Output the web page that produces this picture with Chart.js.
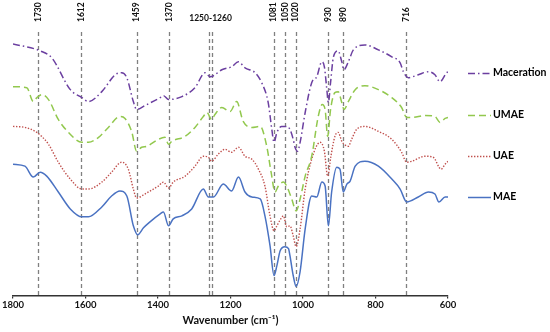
<!DOCTYPE html>
<html>
<head>
<meta charset="utf-8">
<script src="https://cdn.jsdelivr.net/npm/chart.js@4/dist/chart.umd.min.js"></script>
<style>
  html, body { margin: 0; padding: 0; background: #fff; }
  #wrap { width: 550px; height: 332px; position: relative; }
</style>
</head>
<body>
<div id="wrap"><canvas id="c"></canvas></div>
<script>
// ---- Data (wavenumber in cm-1, relative absorbance, arbitrary offset units) ----
const seriesNames = ["Maceration", "UMAE", "UAE", "MAE"];

const macerationWn = [1800,1725,1693,1642,1610,1592,1555,1518,1500,1486,1468,1459,1436,1394,1385,1371,1334,1298,1270,1256,1247,1224,1197,1178,1160,1132,1114,1096,1086,1080,1072,1059,1045,1036,1027,1022,1015,1008,994,976,962,948,941,935,930,924,916,903,893,887,875,861,829,792,755,732,723,710,682,654,636,622,604,600];
const macerationAbs = [253,246,239,207,199,195,205,222,224,219,195,187,191,199,201,197,200,209,224,220,221,227,230,235,229,224,214,194,167,154,164,170,170,167,157,149,145,154,184,214,220,235,230,210,194,214,240,246,235,227,235,247,252,247,240,234,225,219,222,225,222,215,224,225];

const umaeWn = [1800,1762,1744,1734,1721,1702,1675,1647,1610,1592,1564,1537,1505,1491,1472,1459,1445,1431,1399,1381,1371,1362,1325,1298,1275,1265,1252,1243,1224,1201,1183,1165,1141,1118,1100,1088,1077,1068,1054,1045,1031,1019,1008,994,976,958,947,939,932,924,912,903,893,887,875,856,829,792,755,728,714,700,663,636,622,608,600];
const umaeAbs = [210,209,195,199,202,197,177,164,154,154,159,169,180,178,164,145,149,150,157,159,152,155,160,169,180,184,177,182,189,185,195,175,169,170,150,124,104,110,114,110,97,85,97,120,140,180,192,187,160,187,204,205,194,187,195,207,211,207,199,189,179,179,181,180,174,178,179];

const uaeWn = [1800,1767,1734,1721,1702,1675,1642,1610,1592,1555,1528,1500,1482,1468,1459,1436,1422,1399,1385,1371,1358,1325,1298,1275,1261,1252,1234,1215,1197,1178,1160,1141,1123,1105,1091,1080,1072,1063,1054,1045,1036,1027,1019,1008,994,976,953,941,932,923,912,903,893,886,875,866,852,829,792,755,728,714,700,663,641,619,608,600];
const uaeAbs = [170,169,164,160,152,134,117,107,107,114,124,134,127,107,98,102,105,110,114,108,114,120,130,140,139,135,142,147,144,149,140,137,127,110,80,65,70,76,80,69,70,60,49,67,107,137,154,145,120,140,160,164,155,152,150,157,167,170,165,157,144,134,135,140,139,127,132,135];

const maeWn = [1800,1767,1744,1725,1707,1675,1642,1610,1592,1555,1528,1505,1486,1468,1456,1440,1422,1394,1385,1371,1358,1334,1307,1275,1261,1247,1220,1197,1178,1160,1141,1118,1105,1091,1080,1072,1063,1050,1040,1036,1027,1019,1008,994,976,962,948,939,930,921,907,898,889,879,870,856,829,792,755,732,714,682,654,636,625,608,600];
const maeAbs = [132,130,119,124,120,104,87,79,79,89,100,105,100,70,61,68,74,82,84,70,77,80,87,107,99,99,112,105,119,104,99,97,80,50,20,30,45,49,47,40,20,9,24,67,100,99,114,110,70,104,129,127,104,112,115,130,135,130,117,107,94,99,104,102,94,99,99];

const markerWn = [1730,1612,1459,1370,1260,1250,1081,1050,1020,930,890,716];
const markerLabels = ["1730","1612","1459","1370","","","1081","1050","1020","930","890","716"];
const groupLabel = "1250-1260";
const xTicks = [1800,1600,1400,1200,1000,800,600];

// ---- Styles ----
const colors = ["#6B3FA0", "#92C84E", "#C0504D", "#4A72C2"];
const dashes = [[7,3,1.5,3], [7,4], [1.4,1.6], []];
const widths = [1.5, 1.5, 1.4, 1.5];

function pts(wn, ab) { return wn.map((w, i) => ({ x: w, y: ab[i] })); }
const allData = [pts(macerationWn, macerationAbs), pts(umaeWn, umaeAbs), pts(uaeWn, uaeAbs), pts(maeWn, maeAbs)];

const FONT = "Lato, 'Open Sans', 'DejaVu Sans', sans-serif";

const markerPlugin = {
  id: 'markers',
  beforeDatasetsDraw(chart) {
    const { ctx, chartArea, scales } = chart;
    const xs = scales.x;
    ctx.save();
    ctx.strokeStyle = '#808080';
    ctx.lineWidth = 1.3;
    ctx.setLineDash([4, 3]);
    markerWn.forEach(w => {
      const px = Math.round(xs.getPixelForValue(w)) + 0.5;
      ctx.beginPath();
      ctx.moveTo(px, chartArea.top + 2);
      ctx.lineTo(px, chartArea.bottom);
      ctx.stroke();
    });
    ctx.setLineDash([]);
    ctx.fillStyle = '#111';
    ctx.font = "bold 8.5px " + FONT;
    markerWn.forEach((w, i) => {
      if (!markerLabels[i]) return;
      const px = xs.getPixelForValue(w);
      ctx.save();
      ctx.translate(px, 22);
      ctx.rotate(-Math.PI / 2);
      ctx.textAlign = 'left';
      ctx.textBaseline = 'middle';
      ctx.fillText(markerLabels[i], 0, 0);
      ctx.restore();
    });
    const gx = (xs.getPixelForValue(1250) + xs.getPixelForValue(1260)) / 2;
    ctx.font = "bold 8.5px " + FONT;
    ctx.textAlign = 'center';
    ctx.textBaseline = 'middle';
    ctx.fillText(groupLabel, gx, 18);
    ctx.restore();
  }
};

const legendPlugin = {
  id: 'customLegend',
  afterDraw(chart) {
    const { ctx } = chart;
    const ys = [73, 115, 156, 197];
    ctx.save();
    chart.data.datasets.forEach((ds, i) => {
      ctx.strokeStyle = ds.borderColor;
      ctx.lineWidth = ds.borderWidth;
      ctx.setLineDash(ds.borderDash || []);
      ctx.beginPath();
      ctx.moveTo(468, ys[i] + 0.5);
      ctx.lineTo(491, ys[i] + 0.5);
      ctx.stroke();
      ctx.setLineDash([]);
      ctx.fillStyle = '#000';
      ctx.font = "bold 10.5px " + FONT;
      ctx.textAlign = 'left';
      ctx.textBaseline = 'middle';
      ctx.fillText(ds.label, 493, ys[i]);
    });
    ctx.restore();
  }
};

new Chart(document.getElementById('c'), {
  type: 'line',
  data: {
    datasets: seriesNames.map((n, i) => ({
      label: n,
      data: allData[i],
      borderColor: colors[i],
      borderDash: dashes[i],
      borderWidth: widths[i],
      pointRadius: 0,
      fill: false,
      cubicInterpolationMode: 'monotone'
    }))
  },
  options: {
    responsive: true,
    maintainAspectRatio: false,
    animation: false,
    layout: { padding: { left: 13, right: 102, top: 30, bottom: 5 } },
    plugins: { legend: { display: false }, tooltip: { enabled: false } },
    scales: {
      x: {
        type: 'linear',
        reverse: true,
        min: 600,
        max: 1800,
        afterBuildTicks(axis) { axis.ticks = xTicks.map(v => ({ value: v })); },
        grid: { display: true, drawOnChartArea: false, drawTicks: true, tickLength: 3, color: '#333', lineWidth: 1.2 },
        border: { display: true, color: '#333', width: 1.5 },
        ticks: { color: '#111', font: { family: FONT, size: 9.5, weight: 'bold' }, padding: 1, maxRotation: 0, callback: v => String(v) },
        title: { display: true, text: 'Wavenumber (cm\u207B\u00B9)', color: '#111', font: { family: FONT, size: 11, weight: 'bold' }, padding: { top: 2, bottom: 0 } }
      },
      y: { display: false, min: 0, max: 267 }
    }
  },
  plugins: [markerPlugin, legendPlugin]
});
</script>
</body>
</html>
